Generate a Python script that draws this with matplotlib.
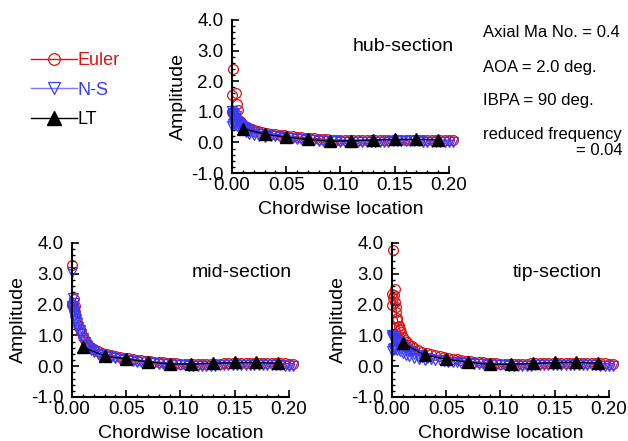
import numpy as np
import matplotlib
matplotlib.use("Agg")
import matplotlib.pyplot as plt
from matplotlib.ticker import MultipleLocator, FixedLocator

plt.rcParams['font.family'] = ['Liberation Sans', 'DejaVu Sans']

# chordwise grid shared by the Euler and N-S surface data
x_grid = [0.000, 0.001, 0.002, 0.003, 0.004, 0.005, 0.006, 0.007, 0.008, 0.010,
          0.012, 0.014, 0.016, 0.018, 0.020, 0.024, 0.028, 0.032, 0.036, 0.040,
          0.044, 0.048, 0.052, 0.056, 0.060, 0.064, 0.068, 0.072, 0.076, 0.080,
          0.084, 0.088, 0.092, 0.096, 0.100, 0.104, 0.108, 0.112, 0.116, 0.120,
          0.124, 0.128, 0.132, 0.136, 0.140, 0.144, 0.148, 0.152, 0.156, 0.160,
          0.164, 0.168, 0.172, 0.176, 0.180, 0.184, 0.188, 0.192, 0.196, 0.200,
          0.204]

# N-S lower-surface points near the leading edge
x_low = [0.000, 0.001, 0.002, 0.003, 0.005, 0.007, 0.010, 0.013, 0.016, 0.020,
         0.025, 0.030]

# linear theory points
x_lt = [0.01, 0.03, 0.05, 0.07, 0.09, 0.11, 0.13, 0.15, 0.17, 0.19]

# ---- hub-section ----
hub_euler = [1.00, 0.95, 0.90, 0.86, 0.82, 0.78, 0.74, 0.70, 0.66, 0.58,
             0.53, 0.49, 0.46, 0.43, 0.41, 0.37, 0.34, 0.31, 0.29, 0.27,
             0.25, 0.23, 0.21, 0.20, 0.18, 0.17, 0.15, 0.14, 0.13, 0.12,
             0.11, 0.10, 0.09, 0.08, 0.08, 0.07, 0.07, 0.07, 0.07, 0.07,
             0.07, 0.07, 0.08, 0.08, 0.08, 0.08, 0.09, 0.09, 0.09, 0.09,
             0.09, 0.09, 0.09, 0.09, 0.08, 0.08, 0.08, 0.08, 0.07, 0.07,
             0.07]
hub_ns = [0.88, 0.83, 0.78, 0.74, 0.70, 0.66, 0.62, 0.59, 0.56, 0.50,
          0.45, 0.41, 0.38, 0.35, 0.33, 0.29, 0.26, 0.24, 0.22, 0.20,
          0.18, 0.16, 0.14, 0.13, 0.12, 0.10, 0.09, 0.08, 0.07, 0.06,
          0.05, 0.04, 0.03, 0.03, 0.02, 0.02, 0.02, 0.01, 0.01, 0.01,
          0.01, 0.02, 0.02, 0.02, 0.02, 0.02, 0.03, 0.03, 0.03, 0.03,
          0.03, 0.03, 0.03, 0.02, 0.02, 0.02, 0.01, 0.01, 0.01, 0.00,
          0.00]
hub_ns_low = [0.55, 0.60, 0.62, 0.58, 0.52, 0.46, 0.39, 0.33, 0.29, 0.25,
              0.21, 0.18]
hub_euler_le_x = [0.0, 0.0006, 0.0034, 0.0043, 0.0055]
hub_euler_le_y = [1.54, 2.41, 1.60, 1.24, 1.05]
hub_ns_le_x = [0.0, 0.001, 0.002, 0.004]
hub_ns_le_y = [1.02, 0.97, 0.92, 0.85]
hub_lt = [0.45, 0.27, 0.17, 0.10, 0.04, 0.05, 0.08, 0.10, 0.10, 0.09]

# ---- mid-section ----
mid_euler = [2.00, 1.95, 1.85, 1.72, 1.58, 1.45, 1.33, 1.22, 1.12, 0.96,
             0.84, 0.74, 0.66, 0.60, 0.55, 0.48, 0.43, 0.39, 0.35, 0.32,
             0.29, 0.27, 0.25, 0.23, 0.21, 0.19, 0.17, 0.16, 0.14, 0.13,
             0.12, 0.11, 0.10, 0.09, 0.08, 0.08, 0.07, 0.07, 0.07, 0.07,
             0.07, 0.08, 0.08, 0.08, 0.09, 0.09, 0.09, 0.10, 0.10, 0.10,
             0.10, 0.10, 0.10, 0.10, 0.10, 0.09, 0.09, 0.09, 0.09, 0.08,
             0.08]
mid_ns = [1.95, 1.88, 1.78, 1.65, 1.52, 1.39, 1.27, 1.16, 1.06, 0.90,
          0.77, 0.67, 0.59, 0.53, 0.48, 0.41, 0.36, 0.32, 0.29, 0.26,
          0.23, 0.21, 0.19, 0.17, 0.15, 0.13, 0.12, 0.10, 0.09, 0.08,
          0.07, 0.06, 0.05, 0.04, 0.03, 0.03, 0.02, 0.02, 0.02, 0.02,
          0.02, 0.02, 0.02, 0.03, 0.03, 0.03, 0.03, 0.04, 0.04, 0.04,
          0.04, 0.04, 0.04, 0.04, 0.03, 0.03, 0.03, 0.03, 0.02, 0.02,
          0.02]
mid_ns_low = [1.90, 1.78, 1.62, 1.48, 1.26, 1.08, 0.86, 0.70, 0.58, 0.46,
              0.37, 0.31]
mid_euler_le_x = [0.0002, 0.0018, 0.0, 0.003]
mid_euler_le_y = [3.28, 2.17, 2.02, 1.95]
mid_ns_le_x = [0.0, 0.001, 0.0, 0.002]
mid_ns_le_y = [3.05, 2.20, 1.92, 2.05]
mid_lt = [0.62, 0.33, 0.23, 0.14, 0.07, 0.07, 0.10, 0.12, 0.12, 0.10]

# ---- tip-section ----
tip_euler = [2.00, 2.20, 2.30, 2.10, 1.75, 1.50, 1.32, 1.20, 1.10, 0.95,
             0.85, 0.77, 0.70, 0.64, 0.60, 0.53, 0.47, 0.42, 0.38, 0.35,
             0.32, 0.29, 0.26, 0.24, 0.22, 0.20, 0.18, 0.16, 0.14, 0.13,
             0.12, 0.11, 0.10, 0.09, 0.08, 0.08, 0.08, 0.08, 0.08, 0.08,
             0.08, 0.09, 0.09, 0.09, 0.09, 0.10, 0.10, 0.10, 0.10, 0.10,
             0.10, 0.10, 0.10, 0.10, 0.10, 0.09, 0.09, 0.09, 0.09, 0.08,
             0.08]
tip_ns = [0.95, 0.92, 0.89, 0.86, 0.83, 0.80, 0.77, 0.74, 0.71, 0.65,
          0.59, 0.54, 0.49, 0.45, 0.41, 0.35, 0.30, 0.27, 0.24, 0.21,
          0.19, 0.17, 0.15, 0.13, 0.12, 0.11, 0.10, 0.09, 0.08, 0.07,
          0.06, 0.05, 0.04, 0.04, 0.03, 0.03, 0.02, 0.02, 0.02, 0.02,
          0.02, 0.02, 0.03, 0.03, 0.03, 0.03, 0.03, 0.04, 0.04, 0.04,
          0.04, 0.04, 0.04, 0.03, 0.03, 0.03, 0.03, 0.02, 0.02, 0.02,
          0.02]
tip_ns_low = [0.50, 0.55, 0.58, 0.56, 0.52, 0.48, 0.42, 0.37, 0.33, 0.28,
              0.23, 0.19]
tip_euler_le_x = [0.0009, 0.0, 0.0028, 0.0035, 0.0047, 0.006, 0.0075]
tip_euler_le_y = [3.77, 2.36, 2.50, 1.93, 1.58, 1.31, 1.18]
tip_ns_le_x = [0.0, 0.001, 0.002]
tip_ns_le_y = [1.02, 0.98, 0.95]
tip_lt = [0.75, 0.36, 0.23, 0.13, 0.06, 0.06, 0.09, 0.12, 0.13, 0.10]

sections = ['hub-section', 'mid-section', 'tip-section']

RED = '#dd1111'
BLUE = '#3a3aff'
BLUE_LINE = '#7a7aff'

fig = plt.figure(figsize=(6.28, 4.41), dpi=100)

# axes rectangles in figure fraction
rects = [(0.3694, 0.6077, 0.3455, 0.3470),
         (0.1146, 0.0998, 0.3455, 0.3492),
         (0.6242, 0.0998, 0.3455, 0.3492)]
label_pos = [(1.02, 0.825), (1.015, 0.81), (0.965, 0.81)]

panel_data = [
    (hub_euler, hub_ns, hub_ns_low, hub_euler_le_x, hub_euler_le_y, hub_ns_le_x, hub_ns_le_y, hub_lt),
    (mid_euler, mid_ns, mid_ns_low, mid_euler_le_x, mid_euler_le_y, mid_ns_le_x, mid_ns_le_y, mid_lt),
    (tip_euler, tip_ns, tip_ns_low, tip_euler_le_x, tip_euler_le_y, tip_ns_le_x, tip_ns_le_y, tip_lt),
]

handles = None
for rect, name, lpos, data in zip(rects, sections, label_pos, panel_data):
    eu, ns, ns_low, eu_lx, eu_ly, ns_lx, ns_ly, lt = data
    ax = fig.add_axes(rect)

    l_eu, = ax.plot(x_grid, eu, color=RED, lw=1.0, marker='o', ms=7,
                    mfc='none', mec=RED, mew=0.9, clip_on=False)
    ax.plot(eu_lx, eu_ly, ls='none', marker='o', ms=7,
            mfc='none', mec=RED, mew=0.9, clip_on=False)
    l_ns, = ax.plot(x_grid, ns, color=BLUE_LINE, lw=1.0, marker='v', ms=7.5,
                    mfc='none', mec=BLUE, mew=0.9, clip_on=False)
    ax.plot(x_low, ns_low, color=BLUE_LINE, lw=1.0, marker='v', ms=7.5,
            mfc='none', mec=BLUE, mew=0.9, clip_on=False)
    ax.plot(ns_lx, ns_ly, ls='none', marker='v', ms=7.5,
            mfc='none', mec=BLUE, mew=0.9, clip_on=False)
    l_lt, = ax.plot(x_lt, lt, color='black', lw=1.0, marker='^', ms=8,
                    mfc='black', mec='black', clip_on=False)
    if handles is None:
        handles = [l_eu, l_ns, l_lt]

    ax.set_xlim(0, 0.2)
    ax.set_ylim(-1, 4)
    ax.spines['top'].set_visible(False)
    ax.spines['right'].set_visible(False)
    ax.spines['left'].set_linewidth(1.5)
    ax.spines['bottom'].set_linewidth(1.5)
    ax.xaxis.set_major_locator(FixedLocator([0, 0.05, 0.10, 0.15, 0.20]))
    ax.xaxis.set_minor_locator(MultipleLocator(0.01))
    ax.yaxis.set_major_locator(FixedLocator([-1, 0, 1, 2, 3, 4]))
    ax.yaxis.set_minor_locator(MultipleLocator(0.2))
    ax.set_xticklabels(['0.00', '0.05', '0.10', '0.15', '0.20'])
    ax.set_yticklabels(['-1.0', '0.0', '1.0', '2.0', '3.0', '4.0'])
    ax.tick_params(which='major', direction='in', length=5, width=1.2,
                   labelsize=13.5, pad=3)
    ax.tick_params(axis='y', which='major', pad=6)
    ax.tick_params(which='minor', direction='in', length=2.5, width=1.0)
    ax.set_xlabel('Chordwise location', fontsize=14, labelpad=5)
    ax.set_ylabel('Amplitude', fontsize=14, labelpad=3)
    ax.text(lpos[0], lpos[1], name, transform=ax.transAxes, ha='right',
            va='center', fontsize=14)

leg = fig.legend(handles, ['Euler', 'N-S', 'LT'], loc='upper left',
                 bbox_to_anchor=(0.05, 0.882), frameon=False, fontsize=13,
                 handlelength=2.5, handletextpad=0.05, labelspacing=0.7,
                 borderpad=0, borderaxespad=0, markerscale=1.2)
for txt, c in zip(leg.get_texts(), [RED, BLUE, 'black']):
    txt.set_color(c)

fig.text(0.769, 0.927, 'Axial Ma No. = 0.4', fontsize=12, va='center')
fig.text(0.769, 0.848, 'AOA = 2.0 deg.', fontsize=12, va='center')
fig.text(0.769, 0.773, 'IBPA = 90 deg.', fontsize=12, va='center')
fig.text(0.769, 0.694, 'reduced frequency', fontsize=12, va='center')
fig.text(0.992, 0.658, '= 0.04', fontsize=12, va='center', ha='right')

fig.savefig('out.png', dpi=100)
